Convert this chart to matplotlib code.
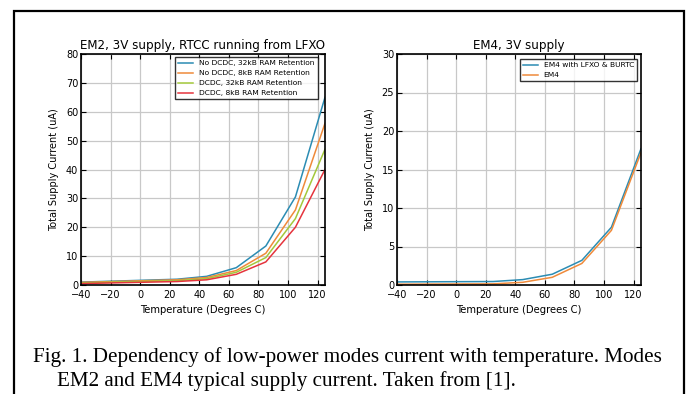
import matplotlib.pyplot as plt
from matplotlib.patches import Rectangle

# ---- data ----
temps = [-40, 25, 45, 65, 85, 105, 125]

em2_labels = [
    "No DCDC, 32kB RAM Retention",
    "No DCDC, 8kB RAM Retention",
    "DCDC, 32kB RAM Retention",
    "DCDC, 8kB RAM Retention",
]
em2_nodcdc_32k = [1.0, 2.0, 3.0, 6.0, 13.5, 30.5, 65.0]
em2_nodcdc_8k = [0.9, 1.8, 2.6, 5.0, 11.0, 26.0, 56.0]
em2_dcdc_32k = [0.7, 1.5, 2.2, 4.4, 9.5, 23.0, 47.0]
em2_dcdc_8k = [0.5, 1.2, 1.8, 3.7, 8.0, 20.0, 40.0]

em4_labels = ["EM4 with LFXO & BURTC", "EM4"]
em4_burtc = [0.4, 0.45, 0.7, 1.4, 3.2, 7.5, 17.7]
em4_plain = [0.1, 0.15, 0.35, 1.0, 2.8, 7.1, 17.2]

BLUE = "#2b8cb3"
ORANGE = "#ef8a3a"
GREEN = "#a3c83b"
RED = "#e5343d"

fig = plt.figure(figsize=(6.87, 3.94), dpi=100)

# outer frame around figure + caption
fig.patches.append(Rectangle((14 / 687, -0.05), (684 - 14) / 687, 1.05 - 11 / 394,
                             transform=fig.transFigure, fill=False,
                             edgecolor="black", linewidth=1.6))

ax1 = fig.add_axes([81 / 687, 1 - 285 / 394, 244 / 687, 231 / 394])
ax2 = fig.add_axes([397 / 687, 1 - 285 / 394, 244 / 687, 231 / 394])


def style_axis(ax, title, ymax, ystep):
    ax.set_xlim(-40, 125)
    ax.set_ylim(0, ymax)
    ax.set_xticks(range(-40, 121, 20))
    ax.set_yticks(range(0, ymax + 1, ystep))
    ax.set_xticklabels(["\u221240", "\u221220", "0", "20", "40", "60", "80", "100", "120"])
    ax.grid(True, color="#c8c8c8", linewidth=0.9)
    ax.set_axisbelow(True)
    ax.tick_params(direction="in", top=True, right=True, length=3.5,
                   labelsize=7, width=0.8)
    ax.tick_params(axis="x", pad=3.5)
    ax.tick_params(axis="y", pad=2)
    for s in ax.spines.values():
        s.set_linewidth(1.2)
    ax.set_title(title, fontsize=8.6, pad=3.5)
    ax.set_xlabel("Temperature (Degrees C)", fontsize=7.2, labelpad=3.5)
    ax.set_ylabel("Total Supply Current (uA)", fontsize=7, labelpad=5)


def add_legend(ax, anchor):
    leg = ax.legend(loc="upper right", bbox_to_anchor=anchor, borderaxespad=0,
                    fontsize=5.4, frameon=True, fancybox=False,
                    edgecolor="black", handlelength=2.0, labelspacing=0.5)
    leg.get_frame().set_linewidth(1.0)


for ys, lab, col in zip([em2_nodcdc_32k, em2_nodcdc_8k, em2_dcdc_32k, em2_dcdc_8k],
                        em2_labels, [BLUE, ORANGE, GREEN, RED]):
    ax1.plot(temps, ys, color=col, linewidth=1.1, label=lab)
style_axis(ax1, "EM2, 3V supply, RTCC running from LFXO", 80, 10)
add_legend(ax1, (0.971, 0.987))

for ys, lab, col in zip([em4_burtc, em4_plain], em4_labels, [BLUE, ORANGE]):
    ax2.plot(temps, ys, color=col, linewidth=1.1, label=lab)
style_axis(ax2, "EM4, 3V supply", 30, 5)
add_legend(ax2, (0.984, 0.978))

caption1 = "Fig. 1. Dependency of low-power modes current with temperature. Modes"
caption2 = "EM2 and EM4 typical supply current. Taken from [1]."
fig.text(33 / 687, 1 - 357 / 394, caption1, family="Liberation Serif",
         fontsize=15.2, va="center", ha="left")
fig.text(57 / 687, 1 - 381 / 394, caption2, family="Liberation Serif",
         fontsize=15.2, va="center", ha="left")

fig.savefig("out.png", dpi=100)
